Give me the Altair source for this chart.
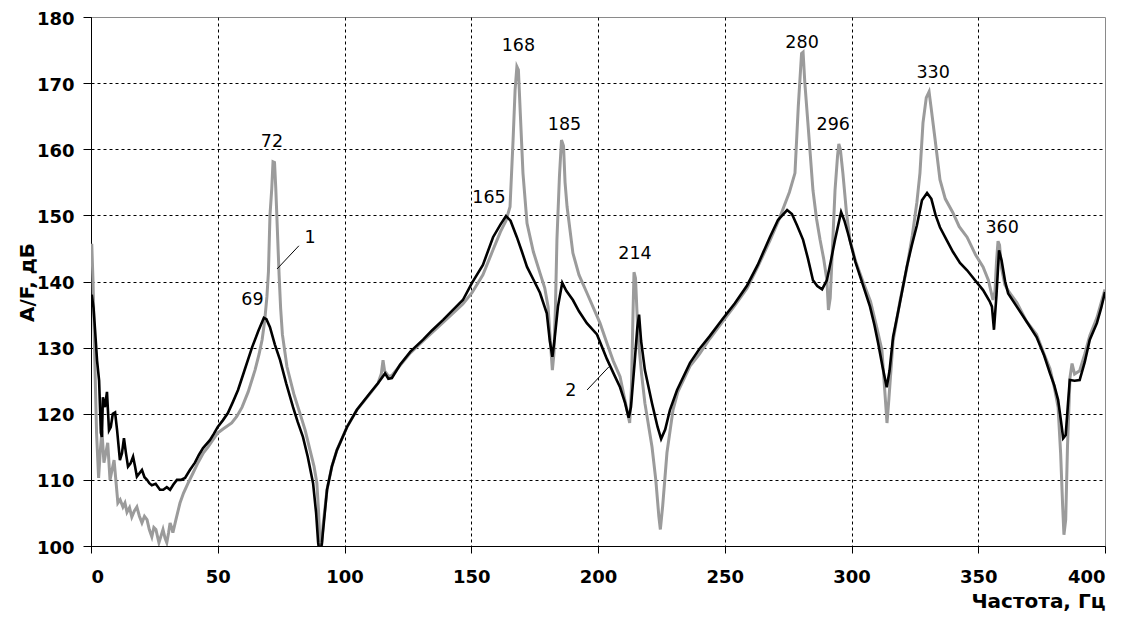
import altair as alt
import pandas as pd

# Curve 1 (grey)
freq_1 = [0.3, 0.8, 1.5, 2.2, 3.0, 3.6, 4.3, 5.1, 5.8, 6.6, 7.5, 8.3, 9.1, 9.8, 10.6, 11.5, 12.6, 13.4, 14.2, 15.2,
          16.1, 17.1, 18.1, 19.1, 20.1, 21.1, 22.1, 23.0, 24.0, 24.8, 25.6, 26.2, 26.8, 27.6, 28.4, 29.2, 29.9, 30.6,
          31.2, 31.8, 32.3, 33.5, 35.1, 36.5, 38.3, 40.2, 42.2, 44.2, 46.2, 48.0, 50.0, 52.5, 55.5, 57.5, 59.6, 62.0,
          64.7, 66.3, 67.5, 68.5, 69.4, 70.0, 70.6, 71.3, 71.8, 72.4, 72.9, 73.3, 74.2, 74.8, 75.5, 77.3, 80.0, 82.4,
          84.5, 86.4, 88.0, 89.1, 89.8, 90.3, 90.8, 91.5, 93.1, 95.0, 97.0, 101.0, 104.9, 110.0, 113.2, 114.5, 115.2,
          115.8, 117.5, 118.7, 121.9, 126.0, 131.0, 138.9, 146.7, 150.3, 154.6, 158.6, 161.5, 163.7, 165.3, 166.5,
          167.3, 168.0, 168.6, 169.4, 170.4, 172.0, 174.5, 177.1, 179.0, 180.3, 181.2, 182.0, 182.6, 183.2, 183.8,
          184.8, 185.6, 186.4, 187.0, 187.8, 190.1, 192.5, 195.6, 200.8, 203.5, 206.0, 208.7, 211.4, 212.5, 213.2,
          213.8, 214.2, 214.8, 215.8, 217.2, 218.5, 221.3, 222.8, 224.0, 224.6, 225.5, 227.2, 229.6, 231.5, 236.3,
          240.0, 244.0, 249.3, 254.0, 258.8, 263.0, 267.8, 271.0, 273.5, 275.5, 277.7, 279.0, 280.3, 280.9, 281.6,
          282.8, 284.8, 286.2, 287.6, 289.0, 290.3, 290.9, 291.6, 292.6, 293.5, 294.5, 295.0, 295.6, 296.6, 298.0,
          299.4, 301.5, 304.5, 307.5, 310.0, 312.0, 313.3, 314.0, 314.7, 316.4, 319.1, 321.8, 324.0, 325.8, 327.0,
          328.2, 329.5, 330.6, 331.5, 333.0, 334.9, 337.0, 340.0, 342.5, 345.6, 349.0, 351.9, 354.0, 355.8, 356.6,
          357.2, 357.8, 358.4, 359.2, 360.5, 362.0, 365.2, 369.0, 373.0, 376.0, 378.3, 380.0, 381.5, 382.5, 383.3,
          383.8, 384.5, 385.2, 386.2, 387.0, 388.0, 390.0, 392.0, 394.0, 396.8, 398.5, 400.0]
db_1 = [145.7, 140, 128, 117, 110.3, 114, 117.5, 112.6, 114, 115.6, 110, 111.5, 113, 110, 106.5, 107, 105.9, 106.5,
        105.1, 105.8, 104.4, 105.3, 105.9, 104.5, 103.5, 104.5, 104, 102.5, 101.4, 102.8, 102.5, 101.5, 100.5, 101.5,
        102.5, 101.2, 100.5, 102, 103.5, 102.8, 102, 104, 106.5, 108, 109.5, 111, 112.6, 114, 115, 116, 117.1, 117.8,
        118.6, 119.6, 121, 123.3, 126.6, 129, 131.2, 134, 137.7, 141.5, 150, 154, 158.1, 158, 154, 150, 141, 136,
        132, 127.1, 123, 120.1, 117.5, 114.5, 112, 109.5, 105, 100.5, 99, 103, 108.5, 112, 114.5, 118, 120.6, 123,
        124.6, 126, 128.1, 126.5, 125.6, 125.8, 127.3, 129.2, 131, 133.8, 136.6, 138.3, 141, 144.8, 147.5, 149.2,
        151.3, 161.4, 169, 172.5, 172, 165, 156.4, 148.8, 144.5, 141.3, 139, 136.2, 131, 126.6, 129, 136, 146.3,
        156, 161.4, 160.5, 155, 151.3, 144.3, 141, 138.3, 133.7, 130.7, 128, 125.6, 120.6, 118.6, 124, 135, 141.4,
        140.5, 131.6, 126, 121.6, 115, 110, 104.5, 102.5, 106, 114.1, 120.6, 123.3, 127.2, 129, 131.3, 134, 136.4,
        139, 142.2, 146.2, 149, 151.5, 153.5, 156.4, 166.4, 174.5, 174.7, 170, 164, 153.8, 149.5, 146.3, 143.5,
        140.2, 135.7, 137.5, 146, 153.8, 159, 160.8, 160, 156.4, 150.5, 146.3, 143.2, 140, 137, 133, 129.6, 122.5,
        118.6, 122, 131, 137, 142, 147, 152, 156.4, 164, 167.8, 168.7, 166, 161.4, 155.4, 152.5, 150.4, 148.3,
        146.7, 144, 142.2, 140.2, 137.2, 138.5, 143, 146.1, 145.5, 142, 139.5, 138.5, 136.8, 134, 132, 129, 126.8,
        124, 121, 114, 106, 101.7, 104, 115, 125.5, 127.6, 126, 126.5, 129, 131.8, 134.5, 136.8, 138.8]

# Curve 2 (black)
freq_2 = [0.3, 1.0, 1.6, 2.4, 3.2, 3.9, 4.3, 4.7, 5.5, 6.3, 7.1, 7.8, 8.6, 9.5, 10.3, 11.4, 12.2, 13.0, 13.8, 14.6,
          15.6, 16.6, 17.4, 18.1, 19.1, 20.1, 21.1, 22.1, 23.0, 24.0, 25.5, 27.2, 28.5, 29.9, 31.2, 32.5, 33.9, 35.5,
          37.1, 39.0, 41.0, 42.6, 44.2, 46.9, 48.5, 50.0, 52.0, 54.0, 56.0, 58.0, 60.5, 63.5, 66.0, 68.2, 69.2, 70.6,
          72.5, 74.6, 77.0, 79.7, 81.5, 83.6, 85.5, 87.6, 88.8, 89.6, 90.3, 91.1, 93.1, 95.0, 97.0, 101.0, 104.9,
          110.0, 113.2, 116.0, 117.3, 118.7, 121.9, 126.0, 131.0, 134.5, 138.9, 142.5, 146.7, 150.3, 154.6, 158.6,
          161.5, 163.7, 165.5, 168.0, 170.0, 172.0, 174.5, 177.1, 179.8, 181.0, 182.0, 182.8, 184.2, 185.9, 187.5,
          190.1, 192.5, 195.6, 199.6, 203.5, 206.5, 208.7, 210.7, 212.1, 213.0, 214.5, 215.5, 216.2, 217.0, 218.5,
          221.3, 223.5, 224.9, 226.5, 228.4, 231.2, 236.3, 240.0, 244.0, 249.3, 254.0, 258.8, 263.0, 267.8, 271.0,
          274.6, 276.5, 278.5, 280.9, 282.8, 284.8, 286.5, 288.4, 290.3, 291.8, 293.5, 295.9, 297.2, 298.6, 301.5,
          304.5, 307.3, 309.0, 310.5, 312.3, 313.9, 315.0, 316.4, 319.1, 321.8, 323.8, 325.8, 327.8, 329.8, 331.5,
          333.2, 334.9, 337.5, 340.0, 342.8, 345.6, 348.5, 351.9, 354.5, 355.4, 356.2, 357.2, 358.2, 359.2, 360.6,
          361.8, 365.2, 369.0, 373.0, 376.0, 378.3, 380.0, 381.5, 382.6, 383.5, 384.5, 385.3, 386.1, 388.0, 390.0,
          392.0, 394.0, 396.8, 398.5, 400.0]
db_2 = [138, 136, 132.7, 128, 125, 117.1, 116.5, 122.5, 121, 123.3, 117.5, 118, 120, 120.2, 117.5, 113, 114, 116.3,
        114, 112, 112.5, 113.5, 112, 110.5, 111, 111.5, 110.4, 110, 109.5, 109.2, 109.4, 108.5, 108.5, 108.9, 108.5,
        109.3, 110, 110, 110.3, 111.5, 112.6, 113.8, 114.8, 116, 117, 118, 119, 120.1, 121.8, 123.6, 126.5, 130,
        132.5, 134.5, 134.3, 133.1, 130.5, 128.1, 124.6, 121, 118.8, 116.5, 113.5, 109.5, 105, 100.5, 98.5, 100.5,
        108.5, 112, 114.5, 118, 120.6, 123.1, 124.6, 126.1, 125.3, 125.4, 127.4, 129.4, 131.2, 132.6, 134.2, 135.6,
        137.2, 139.8, 142.5, 146.7, 148.6, 149.9, 149.2, 146.7, 144.5, 142.2, 140.3, 138.3, 135.2, 131, 128.6, 131,
        136.2, 139.8, 138.6, 137.2, 135.5, 133.7, 132, 128.3, 125.8, 124, 121.6, 119.4, 121, 128, 133, 135, 131,
        126.6, 121.6, 118, 116.2, 117.6, 120.6, 123.6, 127.7, 129.8, 131.7, 134.4, 136.7, 139.4, 142.5, 146.7,
        149.3, 150.8, 150.2, 148.5, 146.3, 143.5, 140.2, 139.3, 138.8, 140.2, 143, 146.3, 150.5, 149.2, 147.3, 143,
        139.5, 136.2, 133.5, 130.7, 127, 124, 126.5, 131.6, 136.8, 142.2, 145.5, 148.5, 152.3, 153.4, 152.5, 150,
        148.2, 146.3, 144.5, 142.8, 141.7, 140.3, 138.7, 137, 136.2, 132.7, 138, 144.7, 143.2, 140, 138.2, 136.2,
        134, 131.6, 128.8, 126.1, 124.3, 122.1, 119, 116.3, 116.8, 121, 125.1, 125, 125.1, 127.8, 131.2, 133.7, 136,
        138.4]

# Peak annotations
peak_text = ["72", "69", "165", "168", "185", "214", "280", "296", "330", "360"]
peak_freq = [71.4, 63.7, 157.0, 168.6, 186.8, 214.6, 280.5, 292.8, 332.2, 359.4]
peak_db = [161.1, 137.2, 152.6, 175.6, 163.7, 144.2, 176.0, 163.7, 171.5, 148.1]

# Curve number labels and leader lines
curve_text = ["1", "2"]
curve_text_freq = [86.4, 189.3]
curve_text_db = [146.6, 123.4]
leader_freq_a = [82.0, 195.7]
leader_db_a = [145.4, 123.6]
leader_freq_b = [73.4, 204.3]
leader_db_b = [141.9, 127.1]

x_ticks = [0, 50, 100, 150, 200, 250, 300, 350, 400]
y_ticks = [100, 110, 120, 130, 140, 150, 160, 170, 180]

FONT = "DejaVu Sans"

df1 = pd.DataFrame({"f": freq_1, "db": db_1})
df2 = pd.DataFrame({"f": freq_2, "db": db_2})
dfp = pd.DataFrame({"f": peak_freq, "db": peak_db, "t": peak_text})
dfc = pd.DataFrame({"f": curve_text_freq, "db": curve_text_db, "t": curve_text})
dfl = pd.DataFrame({"f": leader_freq_a, "db": leader_db_a, "f2": leader_freq_b, "db2": leader_db_b})

x_scale = alt.Scale(domain=[0, 400], nice=False, zero=False)
y_scale = alt.Scale(domain=[100, 180], nice=False, zero=False)

x_axis = alt.Axis(
    values=x_ticks, title="Частота, Гц", format="d",
    labelFont=FONT, labelFontSize=18, labelFontWeight="bold", labelColor="#000000",
    labelPadding=15, tickSize=7, tickColor="#000000", domainColor="#000000",
    grid=True, gridColor="#000000", gridDash=[3, 3], gridWidth=1,
    gridOpacity={"condition": {"test": "datum.value == 400", "value": 0}, "value": 1},
    titleFont=FONT, titleFontSize=20, titleFontWeight="bold", titleColor="#000000",
    titleX=1014, titleY=61, titleAlign="right", titleBaseline="alphabetic",
)
y_axis = alt.Axis(
    values=y_ticks, title="A/F, дБ", format="d",
    labelFont=FONT, labelFontSize=18, labelFontWeight="bold", labelColor="#000000",
    labelPadding=9, labelOffset=2, tickSize=8, tickColor="#000000", domainColor="#000000",
    grid=True, gridColor="#000000", gridDash=[3, 3], gridWidth=1,
    gridOpacity={"condition": {"test": "datum.value == 180", "value": 0}, "value": 1},
    titleFont=FONT, titleFontSize=20, titleFontWeight="bold", titleColor="#000000",
    titleX=-64, titleY=265, titleAngle=270, titleAlign="center", titleBaseline="middle",
)

X = alt.X("f:Q", scale=x_scale, axis=x_axis)
Y = alt.Y("db:Q", scale=y_scale, axis=y_axis)

line1 = alt.Chart(df1).mark_line(color="#9b9b9b", strokeWidth=3, clip=True).encode(x=X, y=Y, order="f:Q")
line2 = alt.Chart(df2).mark_line(color="#000000", strokeWidth=2.6, clip=True).encode(x=X, y=Y, order="f:Q")
leaders = alt.Chart(dfl).mark_rule(color="#000000", strokeWidth=1).encode(x=X, y=Y, x2="f2:Q", y2="db2:Q")
peaks = alt.Chart(dfp).mark_text(font=FONT, fontSize=17.5, color="#000000", align="center", baseline="middle").encode(
    x=X, y=Y, text="t:N")
curve_nums = alt.Chart(dfc).mark_text(font=FONT, fontSize=17.5, color="#000000", align="center", baseline="middle").encode(
    x=X, y=Y, text="t:N")

chart = alt.layer(line1, line2, leaders, peaks, curve_nums).properties(
    width=1014, height=529, autosize="none",
    padding={"left": 83, "top": 9, "right": 10, "bottom": 65},
    background="#ffffff",
).configure_view(stroke="#8a8a8a", strokeWidth=1)

chart.save("out.html", embed_options={"renderer": "svg", "actions": False})
